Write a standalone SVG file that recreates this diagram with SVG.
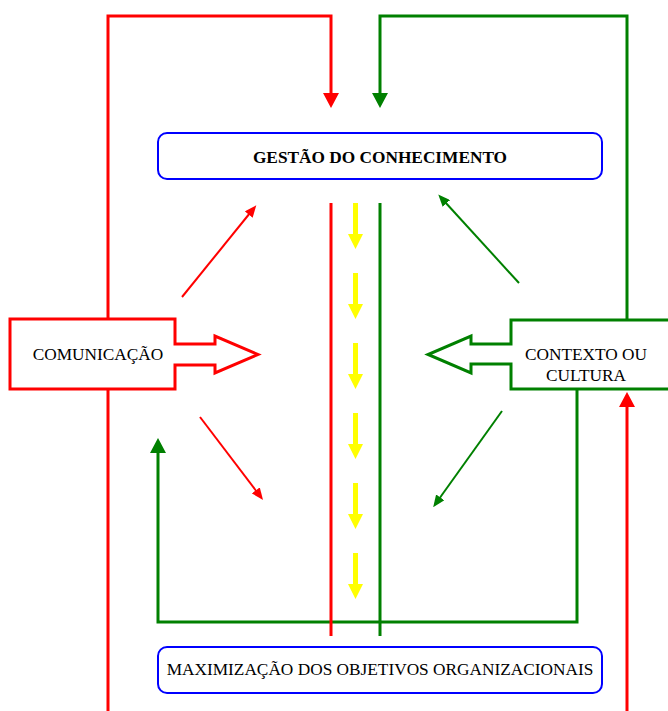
<svg xmlns="http://www.w3.org/2000/svg" width="668" height="711" viewBox="0 0 668 711">
  <style>
    .red { stroke: #ff0000; fill: none; stroke-width: 3; }
    .green { stroke: #008000; fill: none; stroke-width: 3; }
    .thin-red { stroke: #ff0000; fill: none; stroke-width: 2; }
    .thin-green { stroke: #008000; fill: none; stroke-width: 2; }
    .box { fill: #ffffff; stroke: #0000ff; stroke-width: 2; }
    .label { font-family: "Liberation Serif", "Times New Roman", serif; font-size: 17.3px; fill: #000000; text-anchor: middle; }
    .bold { font-weight: bold; }
    .yellow { fill: #ffff00; }
  </style>
  <defs>
    <marker id="headRed" markerUnits="userSpaceOnUse" markerWidth="15" markerHeight="16" refX="0" refY="8" orient="auto" viewBox="0 0 15 16">
      <path d="M0,0 L15,8 L0,16 Z" fill="#ff0000"/>
    </marker>
    <marker id="headGreen" markerUnits="userSpaceOnUse" markerWidth="15" markerHeight="16" refX="0" refY="8" orient="auto" viewBox="0 0 15 16">
      <path d="M0,0 L15,8 L0,16 Z" fill="#008000"/>
    </marker>
    <marker id="smallRed" markerUnits="userSpaceOnUse" markerWidth="12" markerHeight="10" refX="2" refY="5" orient="auto" viewBox="0 0 12 10">
      <path d="M0,0 L12,5 L0,10 Z" fill="#ff0000"/>
    </marker>
    <marker id="smallGreen" markerUnits="userSpaceOnUse" markerWidth="12" markerHeight="10" refX="2" refY="5" orient="auto" viewBox="0 0 12 10">
      <path d="M0,0 L12,5 L0,10 Z" fill="#008000"/>
    </marker>
    <path id="yarrow" class="yellow" d="M-2.5,0 H2.5 V31 H7.5 L0,46 L-7.5,31 H-2.5 Z"/>
  </defs>

  <!-- connectors -->
  <g id="connectors">
    <!-- red feedback loop from COMUNICAÇÃO into GESTÃO -->
    <path class="red" d="M108,319 V16 H331 V93" marker-end="url(#headRed)"/>
    <path class="red" d="M108,389 V711"/>
    <!-- red arrow from the bottom up into CONTEXTO -->
    <path class="red" d="M627,711 V407" marker-end="url(#headRed)"/>
    <!-- green feedback loop from CONTEXTO into GESTÃO -->
    <path class="green" d="M627,320 V16 H380 V93" marker-end="url(#headGreen)"/>
    <!-- green loop under the centre -->
    <path class="green" d="M577,389 V622 H158 V453" marker-end="url(#headGreen)"/>
    <!-- central vertical channel -->
    <path class="red" d="M331,203 V636"/>
    <path class="green" d="M380,203 V636"/>
    <!-- diagonal influence arrows -->
    <path class="thin-red" d="M182,297 L250,213" marker-end="url(#smallRed)"/>
    <path class="thin-red" d="M200,417 L257,492" marker-end="url(#smallRed)"/>
    <path class="thin-green" d="M519,283 L445,202" marker-end="url(#smallGreen)"/>
    <path class="thin-green" d="M502,411 L439,499" marker-end="url(#smallGreen)"/>
    <!-- yellow flow arrows -->
    <use href="#yarrow" x="355.5" y="203"/>
    <use href="#yarrow" x="355.5" y="273"/>
    <use href="#yarrow" x="355.5" y="343"/>
    <use href="#yarrow" x="355.5" y="413"/>
    <use href="#yarrow" x="355.5" y="483"/>
    <use href="#yarrow" x="355.5" y="553"/>
  </g>

  <g id="gestao">
    <rect class="box" x="158" y="133" width="444" height="46" rx="9"/>
    <text class="label bold" x="380" y="163">GESTÃO DO CONHECIMENTO</text>
  </g>

  <g id="maximizacao">
    <rect class="box" x="158" y="647" width="444" height="46" rx="9"/>
    <text class="label" x="380" y="675">MAXIMIZAÇÃO DOS OBJETIVOS ORGANIZACIONAIS</text>
  </g>

  <g id="comunicacao">
    <path d="M10,319 H175 V344 H215 V336 L258,354.5 L215,373 V365 H175 V389 H10 Z" fill="#ffffff" stroke="#ff0000" stroke-width="3"/>
    <text class="label" x="98" y="360">COMUNICAÇÃO</text>
  </g>

  <g id="contexto">
    <path d="M671,320 H511 V344 H471 V336 L428,354.5 L471,373 V364 H511 V389 H671" fill="#ffffff" stroke="#008000" stroke-width="3"/>
    <text class="label" x="586" y="360">CONTEXTO OU</text>
    <text class="label" x="586" y="381">CULTURA</text>
  </g>
</svg>
